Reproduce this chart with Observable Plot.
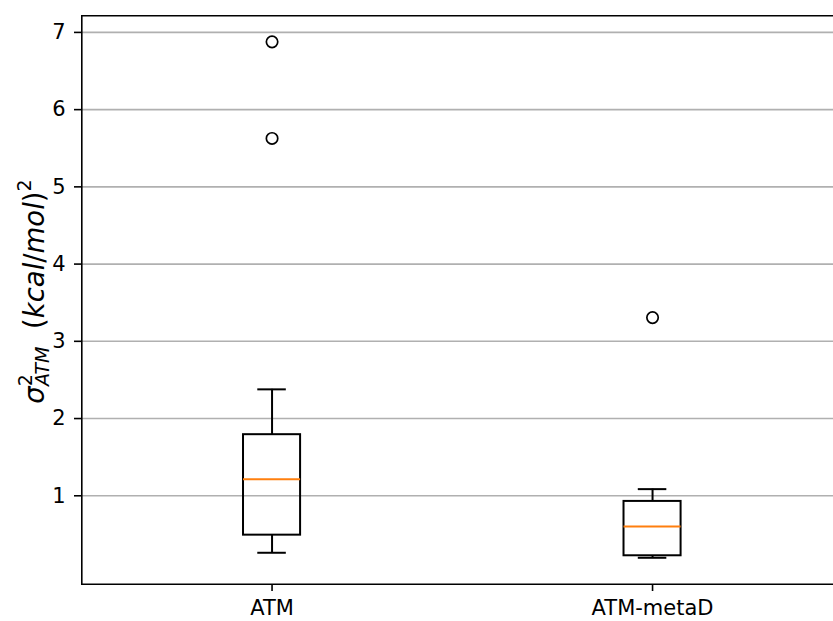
<!DOCTYPE html>
<html>
<head>
<meta charset="utf-8">
<script src="https://cdn.jsdelivr.net/npm/d3@7"></script>
<script src="https://cdn.jsdelivr.net/npm/@observablehq/plot@0.6"></script>
<style>
  html, body { margin: 0; padding: 0; background: white; }
</style>
</head>
<body>
<div id="chart"></div>
<script>
const categories = ["ATM", "ATM-metaD"];
const whiskerLow = [0.262, 0.197];
const q1 = [0.490, 0.223];
const median = [1.215, 0.603];
const q3 = [1.791, 0.927];
const whiskerHigh = [2.378, 1.086];
const outliers = [[6.878, 5.627], [3.307]];
const yTicks = [1, 2, 3, 4, 5, 6, 7];

const boxHalf = 0.075;
const capHalf = 0.0375;

const rows = categories.map((c, i) => ({
  name: c, pos: i + 1,
  lo: whiskerLow[i], q1: q1[i], med: median[i], q3: q3[i], hi: whiskerHigh[i]
}));
const fliers = outliers.flatMap((vals, i) => vals.map(v => ({pos: i + 1, v})));

const chart = Plot.plot({
  width: 833,
  height: 621,
  marginLeft: 81,
  marginTop: 15,
  marginBottom: 37,
  marginRight: 0,
  style: {fontFamily: "DejaVu Sans", fontSize: "21px", background: "white", color: "black"},
  x: {domain: [0.5, 2.5], range: [81.3, 842.3]},
  y: {domain: [-0.145, 7.215], range: [583.7, 15.3]},
  marks: [
    Plot.gridY(yTicks, {stroke: "#b0b0b0", strokeOpacity: 1, strokeWidth: 1.6}),
    Plot.ruleX(rows, {x: "pos", y1: "q3", y2: "hi", stroke: "black", strokeWidth: 2}),
    Plot.ruleX(rows, {x: "pos", y1: "lo", y2: "q1", stroke: "black", strokeWidth: 2}),
    Plot.ruleY(rows, {y: "hi", x1: d => d.pos - capHalf, x2: d => d.pos + capHalf, stroke: "black", strokeWidth: 2}),
    Plot.ruleY(rows, {y: "lo", x1: d => d.pos - capHalf, x2: d => d.pos + capHalf, stroke: "black", strokeWidth: 2}),
    Plot.rect(rows, {x1: d => d.pos - boxHalf, x2: d => d.pos + boxHalf, y1: "q1", y2: "q3", fill: "none", stroke: "black", strokeWidth: 2}),
    Plot.ruleY(rows, {y: "med", x1: d => d.pos - boxHalf, x2: d => d.pos + boxHalf, stroke: "#ff7f0e", strokeWidth: 2}),
    Plot.dot(fliers, {x: "pos", y: "v", r: 5.7, fill: "none", stroke: "black", strokeWidth: 1.7}),
    Plot.ruleX([0.5], {stroke: "black", strokeWidth: 1.6}),
    Plot.ruleY([-0.145, 7.215], {stroke: "black", strokeWidth: 1.6}),
    Plot.axisY({ticks: yTicks, tickSize: 7, tickPadding: 9, fontSize: 21, strokeWidth: 1.6, label: null}),
    Plot.axisX({ticks: [1, 2], tickFormat: d => categories[d - 1], tickSize: 7, tickPadding: 9, fontSize: 21, strokeWidth: 1.6, label: null})
  ]
});

document.getElementById("chart").appendChild(chart);

// y-axis label (mathtext-like)
const svg = d3.select(chart);
const t = svg.append("text")
  .attr("transform", "translate(43.5,291.5) rotate(-90)")
  .attr("text-anchor", "middle")
  .attr("font-family", "DejaVu Sans")
  .attr("font-size", 27.5)
  .attr("fill", "black");
t.append("tspan").attr("font-style", "italic").text("σ");
t.append("tspan").attr("font-size", 19).attr("dy", -11.5).text("2");
t.append("tspan").attr("font-size", 19).attr("font-style", "italic").attr("dx", -12).attr("dy", 17).text("ATM");
t.append("tspan").attr("dy", -5.5).text("\u00a0\u00a0(");
t.append("tspan").attr("font-style", "italic").text("kcal");
t.append("tspan").text("/");
t.append("tspan").attr("font-style", "italic").text("mol");
t.append("tspan").text(")");
t.append("tspan").attr("font-size", 19).attr("dy", -12.5).text("2");
</script>
</body>
</html>
